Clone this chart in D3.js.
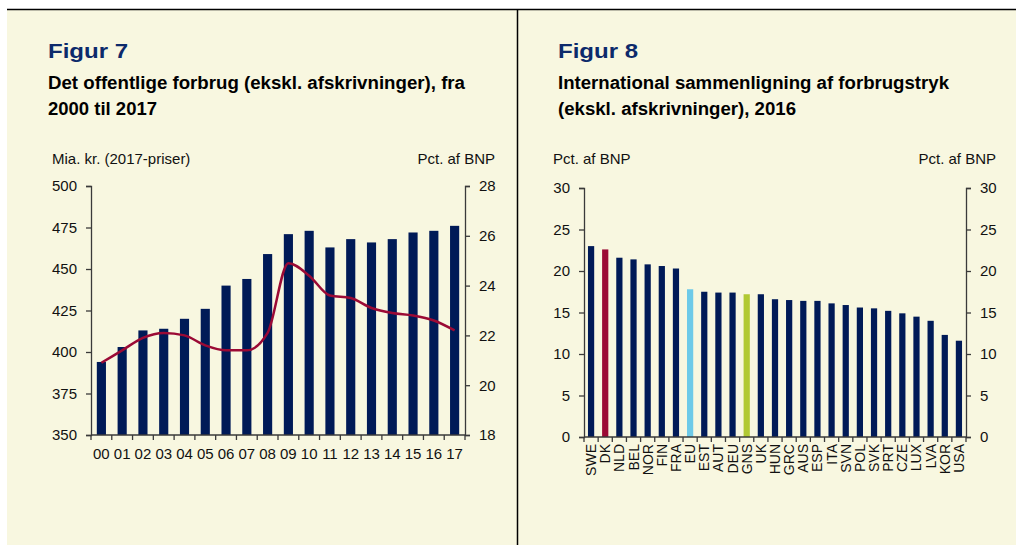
<!DOCTYPE html>
<html>
<head>
<meta charset="utf-8">
<script src="https://cdn.jsdelivr.net/npm/d3@7"></script>
<style>
  body { margin: 0; background: #fff; }
  svg { display: block; font-family: "Liberation Sans", Arial, sans-serif; }
</style>
</head>
<body>
<svg id="chart" width="1016" height="545"></svg>
<script>
// Figur 7 data
const years = ["00","01","02","03","04","05","06","07","08","09","10","11","12","13","14","15","16","17"];
const forbrug = [394, 403, 413, 414, 420, 426, 440, 444, 459, 471, 473, 463, 468, 466, 468, 472, 473, 476];
const pctBnp = [20.9, 21.4, 21.9, 22.1, 22.0, 21.6, 21.4, 21.4, 22.1, 24.9, 24.4, 23.6, 23.5, 23.1, 22.9, 22.8, 22.6, 22.2];
const leftTicks7 = [350, 375, 400, 425, 450, 475, 500];
const rightTicks7 = [18, 20, 22, 24, 26, 28];

// Figur 8 data
const lande = ["SWE","DK","NLD","BEL","NOR","FIN","FRA","EU","EST","AUT","DEU","GNS","UK","HUN","GRC","AUS","ESP","ITA","SVN","POL","SVK","PRT","CZE","LUX","LVA","KOR","USA"];
const forbrugstryk = [23.0, 22.6, 21.6, 21.4, 20.8, 20.6, 20.3, 17.8, 17.5, 17.4, 17.4, 17.2, 17.2, 16.6, 16.5, 16.4, 16.4, 16.1, 15.9, 15.6, 15.5, 15.2, 14.9, 14.5, 14.0, 12.3, 11.6];
const ticks8 = [0, 5, 10, 15, 20, 25, 30];

const navy = "#001a57", red = "#9b0a35", lightBlue = "#6ecae8", green = "#b1c933";
const axisCol = "#3a3a3a";
const fs = 15;

const svg = d3.select("#chart");

// background and frame
svg.append("rect").attr("x", 7).attr("y", 9).attr("width", 1009).attr("height", 536).attr("fill", "#f8f7e0");
svg.append("line").attr("x1", 7).attr("x2", 1016).attr("y1", 9.5).attr("y2", 9.5).attr("stroke", "#000").attr("stroke-width", 1.5);
svg.append("line").attr("x1", 517.5).attr("x2", 517.5).attr("y1", 9).attr("y2", 545).attr("stroke", "#000").attr("stroke-width", 1.5);

function titles(x, fig, figW, lines, widths) {
  svg.append("text").attr("x", x).attr("y", 58).text(fig)
    .attr("font-size", 20).attr("font-weight", "bold").attr("fill", "#0d2a6b")
    .attr("textLength", figW).attr("lengthAdjust", "spacingAndGlyphs");
  lines.forEach((t, i) => {
    svg.append("text").attr("x", x).attr("y", 89 + i * 26).text(t)
      .attr("font-size", 18).attr("font-weight", "bold").attr("fill", "#000")
      .attr("textLength", widths[i]).attr("lengthAdjust", "spacingAndGlyphs");
  });
}

function styleAxis(g) {
  g.selectAll("path").attr("stroke", axisCol).attr("stroke-width", 1.3);
  g.selectAll("line").attr("stroke", axisCol).attr("stroke-width", 1.3);
  g.selectAll("text").attr("font-size", fs).attr("fill", "#111").attr("font-family", "Liberation Sans, Arial, sans-serif");
}

// ---------- Figur 7 ----------
titles(48, "Figur 7", 80, ["Det offentlige forbrug (ekskl. afskrivninger), fra", "2000 til 2017"], [417, 109]);

const x7 = d3.scaleBand().domain(years).range([91, 465]).paddingInner(0.56).paddingOuter(0.28);
const xb7 = d3.scaleBand().domain(years).range([91, 465]);
const yL7 = d3.scaleLinear().domain([350, 500]).range([435, 186]);
const yR7 = d3.scaleLinear().domain([18, 28]).range([435, 186]);

svg.append("text").attr("x", 52).attr("y", 164).text("Mia. kr. (2017-priser)").attr("font-size", fs).attr("fill", "#111");
svg.append("text").attr("x", 495).attr("y", 164).attr("text-anchor", "end").text("Pct. af BNP").attr("font-size", fs).attr("fill", "#111");

svg.append("g").selectAll("rect").data(forbrug).join("rect")
  .attr("x", (d, i) => x7(years[i]))
  .attr("width", x7.bandwidth())
  .attr("y", d => yL7(d))
  .attr("height", d => yL7(350) - yL7(d))
  .attr("fill", navy);

const line7 = d3.line().x((d, i) => xb7(years[i]) + xb7.bandwidth() / 2).y(d => yR7(d)).curve(d3.curveMonotoneX);
svg.append("path").datum(pctBnp).attr("d", line7).attr("fill", "none").attr("stroke", red).attr("stroke-width", 2.5);

const gL7 = svg.append("g").attr("transform", "translate(91,0)")
  .call(d3.axisLeft(yL7).tickValues(leftTicks7).tickSize(5).tickPadding(9));
styleAxis(gL7);
const gR7 = svg.append("g").attr("transform", "translate(465,0)")
  .call(d3.axisRight(yR7).tickValues(rightTicks7).tickSize(5).tickPadding(9));
styleAxis(gR7);

// x axis with ticks at band boundaries
const gX7 = svg.append("g").attr("transform", "translate(0,435)");
gX7.append("line").attr("x1", 91).attr("x2", 465).attr("stroke", axisCol).attr("stroke-width", 1.3);
gX7.selectAll("line.t").data(d3.range(years.length + 1)).join("line").attr("class", "t")
  .attr("x1", i => 91 + i * xb7.step()).attr("x2", i => 91 + i * xb7.step())
  .attr("y1", 0).attr("y2", 5).attr("stroke", axisCol).attr("stroke-width", 1.3);
gX7.selectAll("text").data(years).join("text")
  .attr("x", d => xb7(d) + xb7.bandwidth() / 2).attr("y", 24)
  .attr("text-anchor", "middle").attr("font-size", fs).attr("fill", "#111").text(d => d);

// ---------- Figur 8 ----------
titles(558, "Figur 8", 80, ["International sammenligning af forbrugstryk", "(ekskl. afskrivninger), 2016"], [391, 238]);

const x8 = d3.scaleBand().domain(lande).range([584, 966]).paddingInner(0.56).paddingOuter(0.28);
const xb8 = d3.scaleBand().domain(lande).range([584, 966]);
const y8 = d3.scaleLinear().domain([0, 30]).range([437, 188]);

svg.append("text").attr("x", 553).attr("y", 164).text("Pct. af BNP").attr("font-size", fs).attr("fill", "#111");
svg.append("text").attr("x", 996).attr("y", 164).attr("text-anchor", "end").text("Pct. af BNP").attr("font-size", fs).attr("fill", "#111");

const colour8 = d => d === "DK" ? red : d === "EU" ? lightBlue : d === "GNS" ? green : navy;
svg.append("g").selectAll("rect").data(forbrugstryk).join("rect")
  .attr("x", (d, i) => x8(lande[i]))
  .attr("width", x8.bandwidth())
  .attr("y", d => y8(d))
  .attr("height", d => y8(0) - y8(d))
  .attr("fill", (d, i) => colour8(lande[i]));

const gL8 = svg.append("g").attr("transform", "translate(584,0)")
  .call(d3.axisLeft(y8).tickValues(ticks8).tickSize(5).tickPadding(9));
styleAxis(gL8);
const gR8 = svg.append("g").attr("transform", "translate(966,0)")
  .call(d3.axisRight(y8).tickValues(ticks8).tickSize(5).tickPadding(9));
styleAxis(gR8);

const gX8 = svg.append("g").attr("transform", "translate(0,437)");
gX8.append("line").attr("x1", 584).attr("x2", 966).attr("stroke", axisCol).attr("stroke-width", 1.3);
gX8.selectAll("line.t").data(d3.range(lande.length + 1)).join("line").attr("class", "t")
  .attr("x1", i => 584 + i * xb8.step()).attr("x2", i => 584 + i * xb8.step())
  .attr("y1", 0).attr("y2", 5).attr("stroke", axisCol).attr("stroke-width", 1.3);
gX8.selectAll("text").data(lande).join("text")
  .attr("transform", d => `translate(${xb8(d) + xb8.bandwidth() / 2 + 5},7) rotate(-90)`)
  .attr("text-anchor", "end").attr("font-size", 14).attr("fill", "#111").text(d => d);
</script>
</body>
</html>
